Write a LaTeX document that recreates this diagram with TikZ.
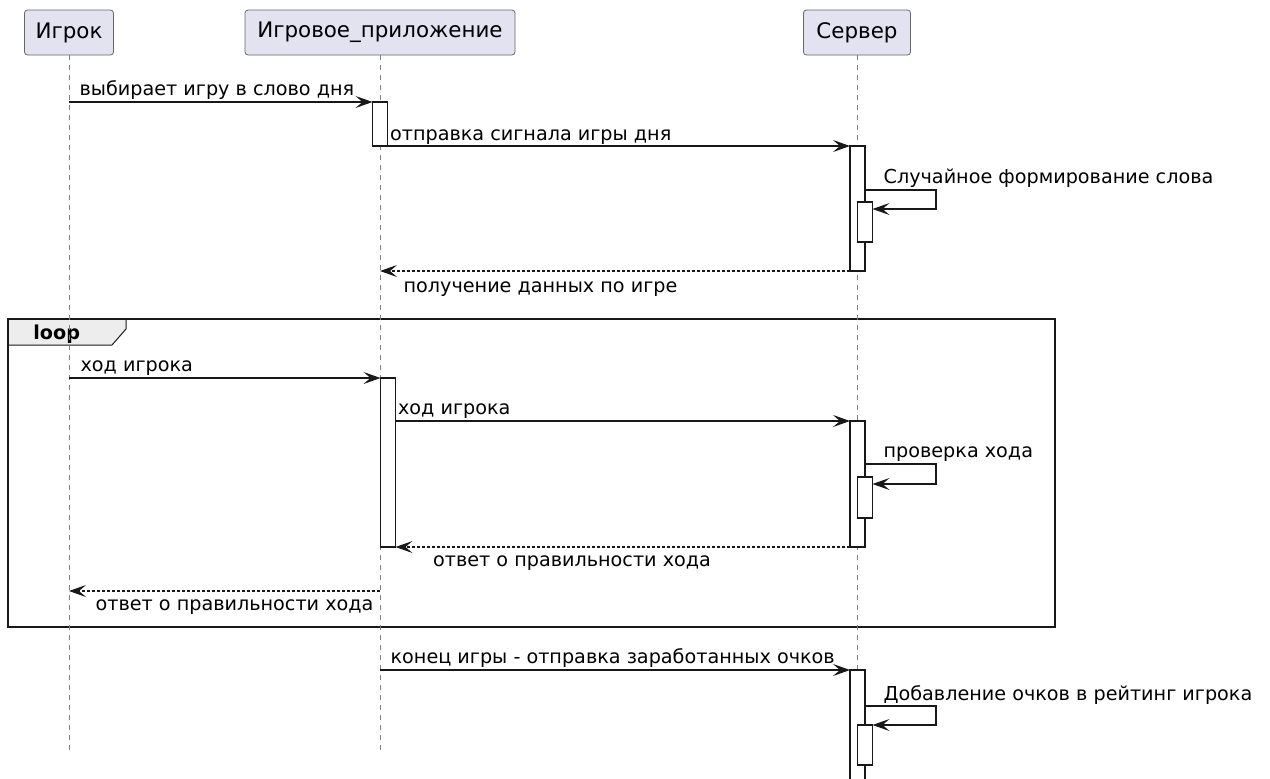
\documentclass[tikz,border=0pt]{standalone}
\usepackage{fontspec}
\setmainfont{DejaVu Sans}
\usetikzlibrary{arrows.meta}
\definecolor{umlblue}{HTML}{E2E2F0}
\definecolor{umlline}{HTML}{181818}

\begin{document}
\begin{tikzpicture}[
        x=0.5pt, y=-0.5pt,
        every node/.style={font=\fontsize{9.6}{11}\selectfont},
        participant/.style={draw=gray!80!black, line width=0.4pt, fill=umlblue, rounded corners=1.5pt, minimum height=22.5pt, inner xsep=0pt, font=\fontsize{10.7}{12}\selectfont},
        lifeline/.style={draw=gray, line width=0.5pt, dash pattern=on 2.5pt off 2.5pt},
        actbar/.style={draw=umlline, fill=white, line width=0.6pt, minimum width=7.5pt, inner sep=0pt, outer sep=0pt},
        msg/.style={draw=umlline, line width=0.6pt, -{Stealth[length=8.5pt, width=6pt, inset=3.5pt]}},
        reply/.style={msg, dash pattern=on 1.5pt off 1pt},
        msglabel/.style={anchor=base west, inner sep=0pt},
        loopframe/.style={draw=umlline, line width=1.2pt, minimum width=523.5pt, minimum height=154pt, inner sep=0pt, outer sep=0pt},
        looptab/.style={draw=umlline, line width=0.5pt, fill=gray!14}
    ]
    \useasboundingbox (0,0) rectangle (1270,778);

    \node[participant, minimum width=44.5pt] (player) at (69,32.5) {Игрок};
    \node[participant, minimum width=135pt] (app) at (380,32.5) {Игровое\_приложение};
    \node[participant, minimum width=53.5pt] (server) at (857,32.5) {Сервер};

    \coordinate (loop corner) at (8,319);
    \draw[looptab] (loop corner) -- ++(118,0) -- ++(0,10) -- ++(-14,16) -- ++(-104,0) -- cycle;
    \node[loopframe, anchor=north west] (loop) at (loop corner) {};
    \node[anchor=base west, inner sep=0pt, xshift=12.5pt, yshift=-10pt, font=\fontsize{9.6}{11}\selectfont\bfseries] (looplabel) at (loop corner) {loop};

    \draw[lifeline] (player.south) -- (player.south |- 0,755);
    \draw[lifeline] (app.south) -- (app.south |- 0,755);
    \draw[lifeline] (server.south) -- (server.south |- 0,778);

    \node[actbar, minimum height=22pt] (act1) at (380,124) {};
    \node[actbar, minimum height=62.5pt] (act2) at (857.5,208.5) {};
    \node[actbar, minimum height=20pt] (act3) at (865,222) {};
    \node[actbar, minimum height=84.5pt] (act4) at (388,462.5) {};
    \node[actbar, minimum height=63pt] (act5) at (857.5,484) {};
    \node[actbar, minimum height=20.5pt] (act6) at (865,497.5) {};
    \node[actbar, minimum height=60pt] (act7) at (857.5,730) {};
    \node[actbar, minimum height=20pt] (act8) at (865,745) {};

    \draw[msg] (player |- act1.north) node[msglabel, xshift=5pt, yshift=3.5pt] {выбирает игру в слово дня} -- (act1.north west);
    \draw[msg] (act1.south east) node[msglabel, xshift=1pt, yshift=3pt] {отправка сигнала игры дня} -- (act2.north west);
    \draw[msg] (act2.east |- 0,190) node[msglabel, xshift=9pt, yshift=3.5pt] {Случайное формирование слова} -- ++(71,0) |- (act3.east |- 0,209);
    \draw[reply] (act2.south west) -- (app.south |- act2.south) node[msglabel, xshift=11.5pt, yshift=-10.5pt] {получение данных по игре};

    \draw[msg] (player |- act4.north) node[msglabel, xshift=5.5pt, yshift=3.5pt] {ход игрока} -- (act4.north west);
    \draw[msg] (act4.east |- act5.north) node[msglabel, xshift=1pt, yshift=3.5pt] {ход игрока} -- (act5.north west);
    \draw[msg] (act5.east |- 0,464) node[msglabel, xshift=9pt, yshift=3.5pt] {проверка хода} -- ++(71,0) |- (act6.east |- 0,484);
    \draw[reply] (act5.south west) -- (act4.south east) node[msglabel, xshift=18.5pt, yshift=-9.5pt] {ответ о правильности хода};
    \draw[reply] (app.south |- 0,591) -- (player.south |- 0,591) node[msglabel, xshift=13pt, yshift=-9.5pt] {ответ о правильности хода};

    \draw[msg] (app.south |- act7.north) node[msglabel, xshift=5pt, yshift=3.5pt] {конец игры - отправка заработанных очков} -- (act7.north west);
    \draw[msg] (act7.east |- 0,706) node[msglabel, xshift=9pt, yshift=3pt] {Добавление очков в рейтинг игрока} -- ++(71,0) |- (act8.north east);
\end{tikzpicture}
\end{document}
